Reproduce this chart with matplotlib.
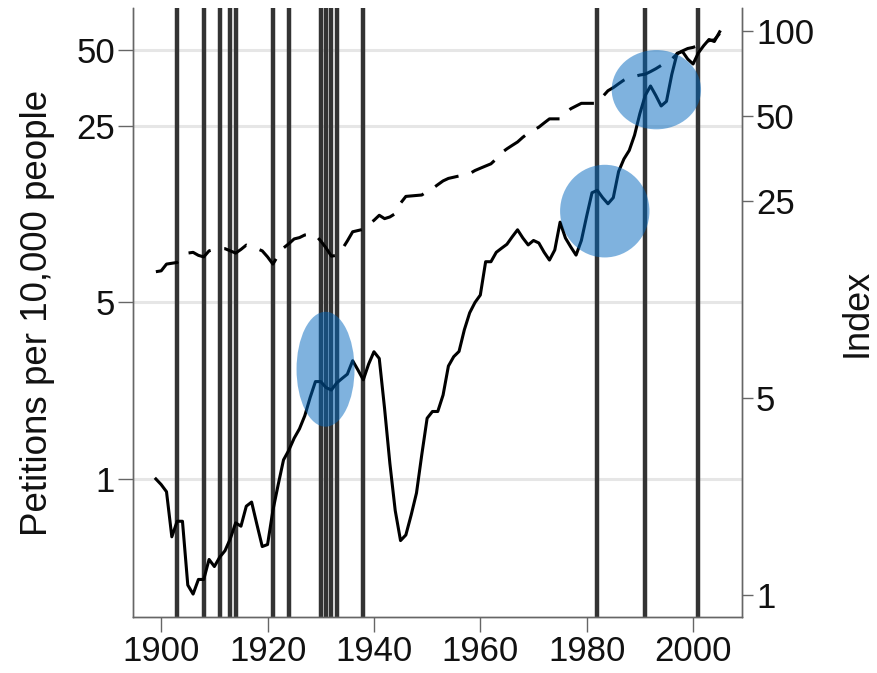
import numpy as np
import matplotlib
matplotlib.use("Agg")
import matplotlib.pyplot as plt
from matplotlib.patches import Ellipse
from matplotlib.ticker import NullLocator

plt.rcParams['font.family'] = ['Liberation Sans', 'DejaVu Sans']

# yearly series, 1899-2005
years = list(range(1899, 2006))

# petitions per 10,000 people (left axis, solid)
petitions = [1.00,
             0.95, 0.89, 0.59, 0.68, 0.68, 0.38, 0.35, 0.40, 0.40, 0.48,
             0.45, 0.49, 0.52, 0.58, 0.67, 0.65, 0.78, 0.81, 0.66, 0.54,
             0.55, 0.75, 0.95, 1.19, 1.30, 1.45, 1.58, 1.78, 2.10, 2.43,
             2.43, 2.30, 2.25, 2.40, 2.50, 2.60, 2.94, 2.70, 2.47, 2.85,
             3.19, 3.00, 1.90, 1.15, 0.75, 0.57, 0.60, 0.72, 0.88, 1.25,
             1.74, 1.85, 1.85, 2.15, 2.80, 3.05, 3.20, 3.90, 4.55, 5.00,
             5.35, 7.25, 7.25, 7.90, 8.20, 8.50, 9.10, 9.70, 9.00, 8.45,
             8.80, 8.60, 7.90, 7.36, 8.07, 10.4, 9.00, 8.30, 7.70, 8.80,
             11.0, 13.6, 13.9, 13.0, 12.3, 13.0, 16.5, 18.5, 20.0, 23.0,
             28.0, 33.0, 36.0, 33.0, 30.0, 31.3, 40.0, 48.5, 49.3, 46.0,
             44.0, 48.7, 52.0, 55.0, 54.0, 59.0]

# index (right axis, dashed)
index_vals = [14.0,
              14.1, 14.9, 15.0, 15.1, 15.6, 16.3, 16.4, 16.0, 15.8, 16.6,
              16.8, 16.9, 16.9, 16.6, 16.3, 16.8, 17.4, 17.1, 16.9, 16.6,
              15.8, 14.9, 16.0, 17.0, 17.6, 18.3, 18.5, 18.9, 19.0, 18.9,
              18.0, 17.0, 15.9, 16.0, 16.8, 18.0, 19.4, 19.6, 19.8, 20.6,
              21.3, 22.2, 21.6, 21.9, 22.5, 24.5, 25.9, 26.0, 26.1, 26.2,
              27.0, 27.6, 28.5, 29.4, 30.0, 30.3, 30.6, 31.0, 31.2, 32.0,
              32.6, 33.2, 33.8, 35.2, 37.0, 38.2, 39.3, 40.4, 42.0, 43.4,
              44.5, 45.6, 47.2, 48.8, 48.8, 48.8, 51.0, 53.0, 54.2, 55.4,
              55.4, 55.4, 55.4, 58.5, 61.4, 63.0, 65.0, 67.0, 68.6, 69.0,
              69.8, 70.3, 71.8, 73.5, 75.5, 77.0, 79.5, 83.0, 85.0, 86.7,
              87.5, 88.9, 90.0, 92.5, 93.0, 98.0]

recession_years = [1903, 1908, 1911, 1913, 1914, 1921, 1924,
                   1930, 1931, 1932, 1933, 1938, 1982, 1991, 2001]

x_ticks = [1900, 1920, 1940, 1960, 1980, 2000]
left_ticks = [1, 5, 25, 50]
right_ticks = [1, 5, 25, 50, 100]

# highlighted episodes (centre year, centre petitions, width in years, height in decades)
circle_years = [1930.9, 1983.4, 1993.1]
circle_values = [2.72, 11.5, 34.8]
circle_widths = [10.9, 16.8, 16.8]
circle_heights = [0.455, 0.367, 0.314]

xlim = (1894.7, 2009.2)
left_lim = (0.284, 73.3)
right_lim = (0.834, 120.7)

fig = plt.figure(figsize=(8.78, 6.73), dpi=100)
rect = [133 / 878, 56 / 673, 609 / 878, 609 / 673]
ax = fig.add_axes(rect)
ax.set_yscale('log')
ax.set_xlim(*xlim)
ax.set_ylim(*left_lim)

for yr in recession_years:
    ax.axvline(yr, color='#333333', lw=3.2, zorder=1)
ax.plot(years, petitions, color='black', lw=2.2, zorder=3)

ax.set_xticks(x_ticks)
ax.set_yticks(left_ticks)
ax.set_yticklabels([str(t) for t in left_ticks])
ax.yaxis.set_minor_locator(NullLocator())
ax.set_axisbelow(True)
ax.grid(axis='y', color='#e6e6e6', lw=2.2)
ax.tick_params(axis='both', length=11, width=1, color='#666666',
               labelsize=25, labelcolor='#111111', pad=2)

ax2 = ax.twinx()
ax2.set_yscale('log')
ax2.set_ylim(*right_lim)
ax2.plot(years, index_vals, color='black', lw=2.2, ls=(0, (8.5, 4.5)))
ax2.set_yticks(right_ticks)
ax2.set_yticklabels([str(t) for t in right_ticks])
ax2.yaxis.set_minor_locator(NullLocator())
ax2.tick_params(axis='y', length=8, width=1, color='#666666',
                labelsize=25, labelcolor='#111111', pad=2)

for a in (ax, ax2):
    a.spines['top'].set_visible(False)
    for s in ('left', 'right', 'bottom'):
        a.spines[s].set_color('#666666')
        a.spines[s].set_linewidth(1.0)

# overlay in (year, log10 petitions) units for the highlight ellipses
ax3 = fig.add_axes(rect, facecolor='none')
ax3.set_xlim(*xlim)
ax3.set_ylim(np.log10(left_lim[0]), np.log10(left_lim[1]))
ax3.axis('off')
for cx, cv, w, h in zip(circle_years, circle_values, circle_widths, circle_heights):
    ax3.add_patch(Ellipse((cx, np.log10(cv)), w, h, facecolor='#0067BF',
                          edgecolor='none', alpha=0.5))

fig.text(38 / 878, 1 - 312.5 / 673, 'Petitions per 10,000 people', rotation=90,
         ha='center', va='center', fontsize=26.5, color='#111111')
fig.text(857 / 878, 1 - 312.5 / 673, 'Index', rotation=90,
         ha='center', va='center', fontsize=26, color='#111111')

fig.savefig('out.png', dpi=100)
